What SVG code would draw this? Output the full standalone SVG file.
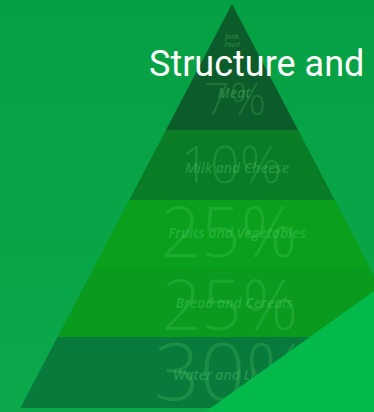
<svg xmlns="http://www.w3.org/2000/svg" width="374" height="412" viewBox="0 0 374 412">
<defs>
<linearGradient id="bg" x1="0" y1="0" x2="0" y2="1">
<stop offset="0" stop-color="#05a043"/>
<stop offset="1" stop-color="#0ba94b"/>
</linearGradient>
</defs>
<style>
.lbl{font-family:"Open Sans","DejaVu Sans",sans-serif;font-style:italic;font-weight:600;text-anchor:middle;fill:#5fd070;fill-opacity:0.35}
.pct{font-family:"Open Sans","DejaVu Sans",sans-serif;font-weight:300;text-anchor:middle;fill:#5fd070;fill-opacity:0.22}
.title{font-family:Roboto,"Liberation Sans",sans-serif;font-size:36px;fill:#ffffff}
</style>
<rect id="background" x="0" y="0" width="374" height="412" fill="url(#bg)"/>
<g id="layer-top">
<polygon points="232,4 298,130 166,130" fill="#0b5c2a"/>
<text class="lbl" x="232" y="39" font-size="7">Junk</text>
<text class="lbl" x="232" y="47" font-size="7">Food</text>
<text class="pct" x="235" y="115" font-size="45">7%</text>
<text class="lbl" x="234" y="98" font-size="14" font-weight="700">Meat</text>
</g>
<g id="layer-milk">
<polygon points="166,130 298,130 334.7,200 129.3,200" fill="#097c26"/>
<text class="pct" x="231" y="183" font-size="52">10%</text>
<text class="lbl" x="237" y="173" font-size="14">Milk and Cheese</text>
</g>
<g id="layer-fruits">
<polygon points="129.3,200 334.7,200 370.3,268 93.7,268" fill="#0aa01c"/>
<text class="pct" x="229" y="257" font-size="70">25%</text>
<text class="lbl" x="237" y="238" font-size="14">Fruits and Vegetables</text>
</g>
<g id="layer-bread">
<polygon points="93.7,268 370.3,268 406.5,337 57.5,337" fill="#099a1e"/>
<text class="pct" x="230" y="330" font-size="70">25%</text>
<text class="lbl" x="234" y="308" font-size="14">Bread and Cereals</text>
</g>
<g id="layer-water">
<polygon points="57.5,337 406.5,337 443.7,408 20.3,408" fill="#087a3c"/>
<text class="pct" x="232" y="400" font-size="80">30%</text>
<text class="lbl" x="173" y="380" font-size="14" style="text-anchor:start">Water and Li</text>
</g>
<polygon id="overlay" points="374,291 374,412 205,412" fill="#02b94a"/>
<text id="title" class="title" x="149" y="76">Structure and</text>
</svg>
